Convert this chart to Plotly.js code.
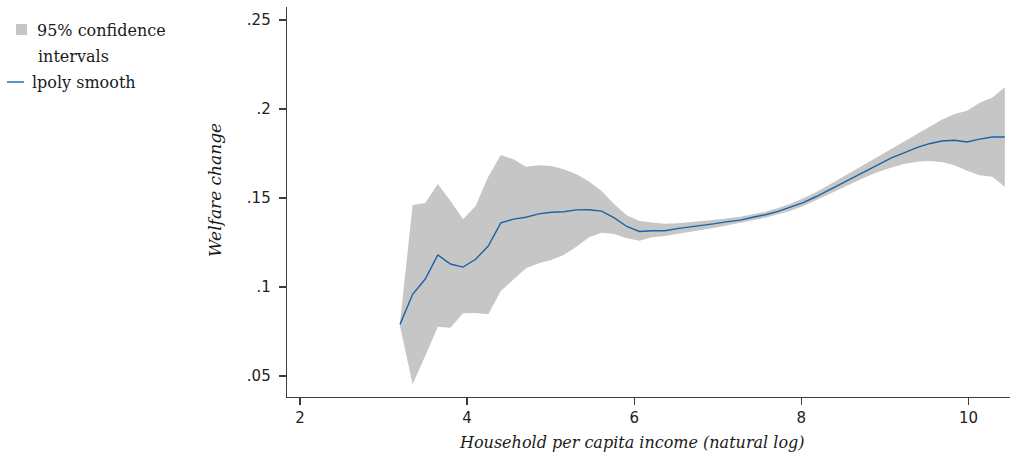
<!DOCTYPE html>
<html>
<head>
<meta charset="utf-8">
<script src="https://cdn.plot.ly/plotly-3.0.1.min.js"></script>
<style>
html,body{margin:0;padding:0;background:#fff;}
#chart{width:1010px;height:457px;}
</style>
</head>
<body>
<div id="chart"></div>
<script>
// Household per capita income (natural log)
const xIncome = [3.197,3.348,3.499,3.649,3.800,3.951,4.102,4.253,4.403,4.554,
  4.705,4.856,5.007,5.157,5.308,5.459,5.610,5.761,5.911,6.062,
  6.213,6.364,6.515,6.665,6.816,6.967,7.118,7.269,7.419,7.570,
  7.721,7.872,8.023,8.173,8.324,8.475,8.626,8.777,8.927,9.078,
  9.229,9.380,9.531,9.681,9.832,9.983,10.134,10.285,10.435];

// lpoly smooth (welfare change)
const smooth = [0.0790,0.0959,0.1045,0.1180,0.1129,0.1112,0.1156,0.1230,0.1360,0.1381,
  0.1392,0.1411,0.1420,0.1423,0.1433,0.1434,0.1426,0.1388,0.1340,0.1312,
  0.1316,0.1316,0.1328,0.1337,0.1344,0.1356,0.1367,0.1376,0.1392,0.1406,
  0.1425,0.1448,0.1474,0.1507,0.1543,0.1580,0.1618,0.1653,0.1691,0.1725,
  0.1754,0.1783,0.1805,0.1820,0.1824,0.1815,0.1831,0.1843,0.1843];

// 95% CI upper bound
const ciUpper = [0.0800,0.1461,0.1472,0.1579,0.1485,0.1380,0.1455,0.1620,0.1742,0.1717,
  0.1676,0.1684,0.1680,0.1661,0.1633,0.1592,0.1539,0.1465,0.1403,0.1371,
  0.1363,0.1356,0.1358,0.1363,0.1371,0.1378,0.1386,0.1395,0.1408,0.1423,
  0.1444,0.1468,0.1498,0.1532,0.1571,0.1612,0.1653,0.1695,0.1736,0.1775,
  0.1818,0.1860,0.1901,0.1940,0.1972,0.1990,0.2035,0.2065,0.2122];

// 95% CI lower bound
const ciLower = [0.0780,0.0453,0.0614,0.0777,0.0771,0.0852,0.0854,0.0847,0.0978,0.1039,
  0.1105,0.1133,0.1152,0.1180,0.1226,0.1279,0.1305,0.1298,0.1274,0.1260,
  0.1279,0.1287,0.1298,0.1309,0.1320,0.1333,0.1347,0.1361,0.1375,0.1389,
  0.1408,0.1429,0.1455,0.1485,0.1519,0.1554,0.1588,0.1620,0.1648,0.1672,
  0.1691,0.1704,0.1708,0.1702,0.1684,0.1653,0.1628,0.1620,0.1563];

const yTickVals = [0.05, 0.1, 0.15, 0.2, 0.25];
const yTickText = ['.05', '.1', '.15', '.2', '.25'];
const xTickVals = [2, 4, 6, 8, 10];
const xTickText = ['2', '4', '6', '8', '10'];

const legendLabels = ['95% confidence', 'intervals', 'lpoly smooth'];

const bandColor = '#c6c6c6';
const lineColor = '#1763a6';
const axisColor = '#3c3c3c';

const traces = [
  {x: xIncome, y: ciLower, type: 'scatter', mode: 'lines', line: {width: 0, color: bandColor},
   showlegend: false, hoverinfo: 'skip'},
  {x: xIncome, y: ciUpper, type: 'scatter', mode: 'lines', line: {width: 0, color: bandColor},
   fill: 'tonexty', fillcolor: bandColor, showlegend: false, hoverinfo: 'skip'},
  {x: xIncome, y: smooth, type: 'scatter', mode: 'lines', line: {width: 1.4, color: lineColor},
   showlegend: false}
];

// pixel helpers for positioning outside the plot area (paper coords)
const L = 287, R = 1010, T = 7, B = 397;
const px = v => (v - L) / (R - L);
const py = v => (B - v) / (B - T);

const layout = {
  width: 1010, height: 457,
  margin: {l: L, r: 1010 - R, t: T, b: 457 - B, pad: 0},
  paper_bgcolor: '#ffffff', plot_bgcolor: '#ffffff',
  showlegend: false,
  xaxis: {
    range: [1.8444, 10.497], showgrid: false, zeroline: false,
    showline: true, linecolor: axisColor, linewidth: 1.3,
    ticks: 'outside', ticklen: 7, tickwidth: 1.3, tickcolor: axisColor,
    tickvals: xTickVals, ticktext: xTickText,
    tickfont: {family: 'DejaVu Sans', size: 15, color: '#222'},
    fixedrange: true
  },
  yaxis: {
    range: [0.0382, 0.2573], showgrid: false, zeroline: false,
    showline: true, linecolor: axisColor, linewidth: 1.3,
    ticks: 'outside', ticklen: 7, tickwidth: 1.3, tickcolor: axisColor,
    tickvals: yTickVals, ticktext: yTickText,
    tickfont: {family: 'DejaVu Sans', size: 15, color: '#222'},
    ticklabelstandoff: 5,
    fixedrange: true
  },
  shapes: [
    {type: 'rect', xref: 'paper', yref: 'paper', x0: px(16), x1: px(27), y0: py(35), y1: py(24),
     fillcolor: bandColor, line: {width: 0}},
    {type: 'line', xref: 'paper', yref: 'paper', x0: px(7), x1: px(24), y0: py(82), y1: py(82),
     line: {color: lineColor, width: 1.4}}
  ],
  annotations: [
    {text: legendLabels[0], xref: 'paper', yref: 'paper', x: px(35), y: py(30),
     xanchor: 'left', yanchor: 'middle', showarrow: false,
     font: {family: 'DejaVu Serif', size: 16, color: '#1a1a1a'}},
    {text: legendLabels[1], xref: 'paper', yref: 'paper', x: px(36), y: py(56),
     xanchor: 'left', yanchor: 'middle', showarrow: false,
     font: {family: 'DejaVu Serif', size: 16, color: '#1a1a1a'}},
    {text: legendLabels[2], xref: 'paper', yref: 'paper', x: px(30), y: py(82),
     xanchor: 'left', yanchor: 'middle', showarrow: false,
     font: {family: 'DejaVu Serif', size: 16, color: '#1a1a1a'}},
    {text: '<i>Welfare change</i>', xref: 'paper', yref: 'paper', x: px(215), y: py(190),
     xanchor: 'center', yanchor: 'middle', textangle: -90, showarrow: false,
     font: {family: 'DejaVu Serif', size: 17, color: '#1a1a1a'}},
    {text: '<i>Household per capita income (natural log)</i>', xref: 'paper', yref: 'paper',
     x: px(632), y: py(442), xanchor: 'center', yanchor: 'middle', showarrow: false,
     font: {family: 'DejaVu Serif', size: 16, color: '#1a1a1a'}}
  ]
};

Plotly.newPlot('chart', traces, layout, {displayModeBar: false, staticPlot: true});
</script>
</body>
</html>
